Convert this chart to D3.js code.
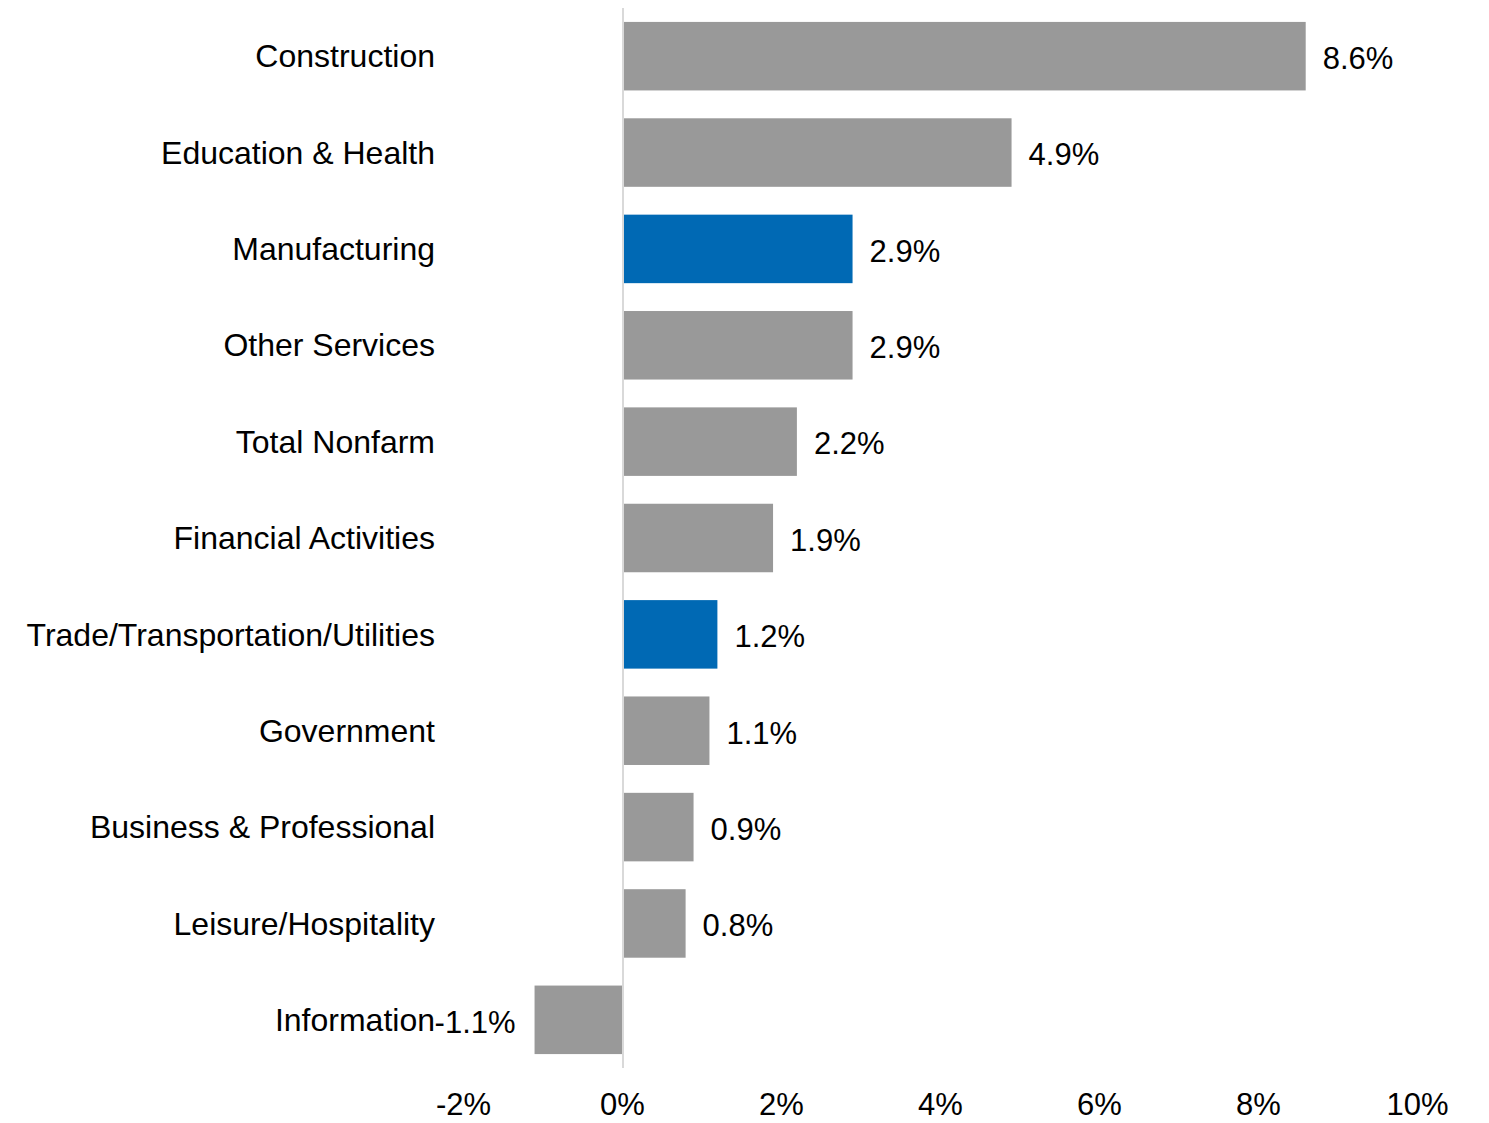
<!DOCTYPE html>
<html>
<head>
<meta charset="utf-8">
<script src="https://cdn.jsdelivr.net/npm/d3@7"></script>
<style>
  html, body { margin: 0; padding: 0; background: #fff; }
  svg { display: block; font-family: "Liberation Sans", Arial, sans-serif; }
</style>
</head>
<body>
<svg id="chart" width="1489" height="1123"></svg>
<script>
// Year-over-year job growth by industry
const categories = [
  "Construction",
  "Education & Health",
  "Manufacturing",
  "Other Services",
  "Total Nonfarm",
  "Financial Activities",
  "Trade/Transportation/Utilities",
  "Government",
  "Business & Professional",
  "Leisure/Hospitality",
  "Information"
];
const values = [8.6, 4.9, 2.9, 2.9, 2.2, 1.9, 1.2, 1.1, 0.9, 0.8, -1.1];
const highlighted = ["Manufacturing", "Trade/Transportation/Utilities"];
const tickValues = [-2, 0, 2, 4, 6, 8, 10];

const data = categories.map((c, i) => ({ category: c, value: values[i] }));

const svg = d3.select("#chart");

const x = d3.scaleLinear().domain([-2, 10]).range([463, 1417]);
const y = d3.scaleBand()
  .domain(categories)
  .range([8, 1068])
  .paddingInner(0.289)
  .paddingOuter(0.1445);

const grey = "#999999";
const blue = "#0069b4";

// bars
svg.append("g")
  .selectAll("rect")
  .data(data)
  .join("rect")
  .attr("x", d => x(Math.min(0, d.value)))
  .attr("width", d => Math.abs(x(d.value) - x(0)))
  .attr("y", d => y(d.category))
  .attr("height", y.bandwidth())
  .attr("fill", d => highlighted.includes(d.category) ? blue : grey);

// zero line
svg.append("line")
  .attr("x1", x(0) + 1).attr("x2", x(0) + 1)
  .attr("y1", y.range()[0]).attr("y2", y.range()[1])
  .attr("stroke", "#d9d9d9")
  .attr("stroke-width", 2);

// category labels
svg.append("g")
  .selectAll("text")
  .data(data)
  .join("text")
  .attr("x", 435)
  .attr("y", d => y(d.category) + y.bandwidth() / 2)
  .attr("dy", "0.35em")
  .attr("text-anchor", "end")
  .attr("font-size", 32)
  .attr("fill", "#000")
  .text(d => d.category);

// value labels
svg.append("g")
  .selectAll("text")
  .data(data)
  .join("text")
  .attr("x", d => d.value >= 0 ? x(d.value) + 17 : x(d.value) - 19)
  .attr("y", d => y(d.category) + y.bandwidth() / 2 + 2)
  .attr("dy", "0.35em")
  .attr("text-anchor", d => d.value >= 0 ? "start" : "end")
  .attr("font-size", 31)
  .attr("fill", "#000")
  .text(d => d.value.toFixed(1) + "%");

// x axis tick labels
const axis = d3.axisBottom(x)
  .tickValues(tickValues)
  .tickSize(0)
  .tickPadding(0)
  .tickFormat(d => d + "%");

const gx = svg.append("g")
  .attr("transform", "translate(0,1104)")
  .call(axis);
gx.select(".domain").remove();
gx.selectAll("text")
  .attr("font-family", "\"Liberation Sans\", Arial, sans-serif")
  .attr("font-size", 31)
  .attr("fill", "#000")
  .attr("y", 0)
  .attr("dy", "0.35em");
</script>
</body>
</html>
